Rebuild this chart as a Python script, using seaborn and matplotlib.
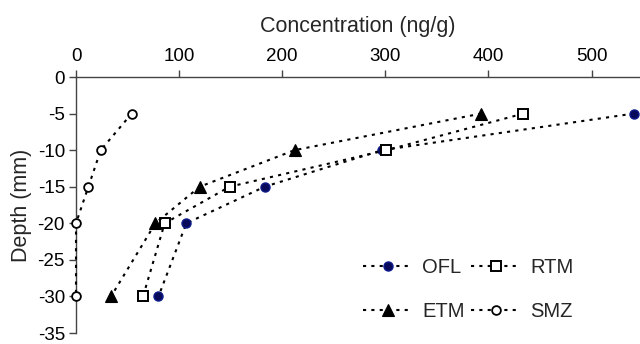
import matplotlib
matplotlib.use("Agg")
import matplotlib.pyplot as plt
import seaborn as sns
import pandas as pd
from matplotlib.lines import Line2D

depth = [-5, -10, -15, -20, -30]
ofl = [541, 297, 183, 107, 80]
rtm = [434, 301, 149, 86, 65]
etm = [393, 212, 120, 77, 34]
smz = [54, 24, 12, 0, 0]

series_names = ["OFL", "RTM", "ETM", "SMZ"]
series_vals = [ofl, rtm, etm, smz]

x_ticks = [0, 100, 200, 300, 400, 500]
y_ticks = [0, -5, -10, -15, -20, -25, -30, -35]

sns.set_style("white")
plt.rcParams["font.family"] = ["Liberation Sans", "DejaVu Sans"]
plt.rcParams["axes.unicode_minus"] = False

styles = {
    "OFL": dict(marker="o", markersize=6.5, markerfacecolor="#0a0a5a", markeredgecolor="#0c1a8a", markeredgewidth=1.0),
    "RTM": dict(marker="s", markersize=6.5, markerfacecolor="white", markeredgecolor="black", markeredgewidth=1.4),
    "ETM": dict(marker="^", markersize=8.5, markerfacecolor="black", markeredgecolor="black", markeredgewidth=0.8),
    "SMZ": dict(marker="o", markersize=6.3, markerfacecolor="white", markeredgecolor="black", markeredgewidth=1.3),
}
ls = (0, (1.5, 2.5))

fig = plt.figure(figsize=(6.4, 3.44), dpi=100)
bottom_px, top_px = 333, 77
ax = fig.add_axes([76 / 640, 1 - bottom_px / 344, (640 - 76) / 640, (bottom_px - top_px) / 344])

for name, vals in zip(series_names, series_vals):
    df = pd.DataFrame({"conc": vals, "depth": depth})
    sns.lineplot(data=df, x="conc", y="depth", sort=False, estimator=None, ax=ax,
                 color="black", linewidth=1.5, linestyle=ls, clip_on=False, zorder=3,
                 **styles[name])

ax.set_xlim(0, 547)
ax.set_ylim(-35, 0)
ax.xaxis.tick_top()
ax.xaxis.set_label_position("top")
ax.set_xticks(x_ticks)
ax.set_yticks(y_ticks)
ax.set_xlabel("Concentration (ng/g)", fontsize=15.5, labelpad=12)
ax.set_ylabel("Depth (mm)", fontsize=15.5, labelpad=4)
ax.tick_params(axis="both", labelsize=13.5, direction="out", length=5, width=1,
               color="#444444", labelcolor="black")
ax.tick_params(axis="x", top=True, bottom=False, pad=3.5)
ax.tick_params(axis="y", left=True, right=False, pad=3)
for s in ["right", "bottom"]:
    ax.spines[s].set_visible(False)
for s in ["left", "top"]:
    ax.spines[s].set_color("#444444")
    ax.spines[s].set_linewidth(1.0)

handles = {}
for name in series_names:
    handles[name] = Line2D([], [], color="black", linewidth=1.5, linestyle=ls, **styles[name])
order = ["OFL", "ETM", "RTM", "SMZ"]
ax_h = bottom_px - top_px
leg = ax.legend([handles[n] for n in order], order, ncol=2, frameon=False,
                loc="upper left", bbox_to_anchor=((363 - 76) / 564, (bottom_px - 258) / ax_h),
                fontsize=14.5, handlelength=2.5, handletextpad=0.45, columnspacing=0.3,
                labelspacing=1.25, borderpad=0, borderaxespad=0)

fig.savefig("out.png", dpi=100)
